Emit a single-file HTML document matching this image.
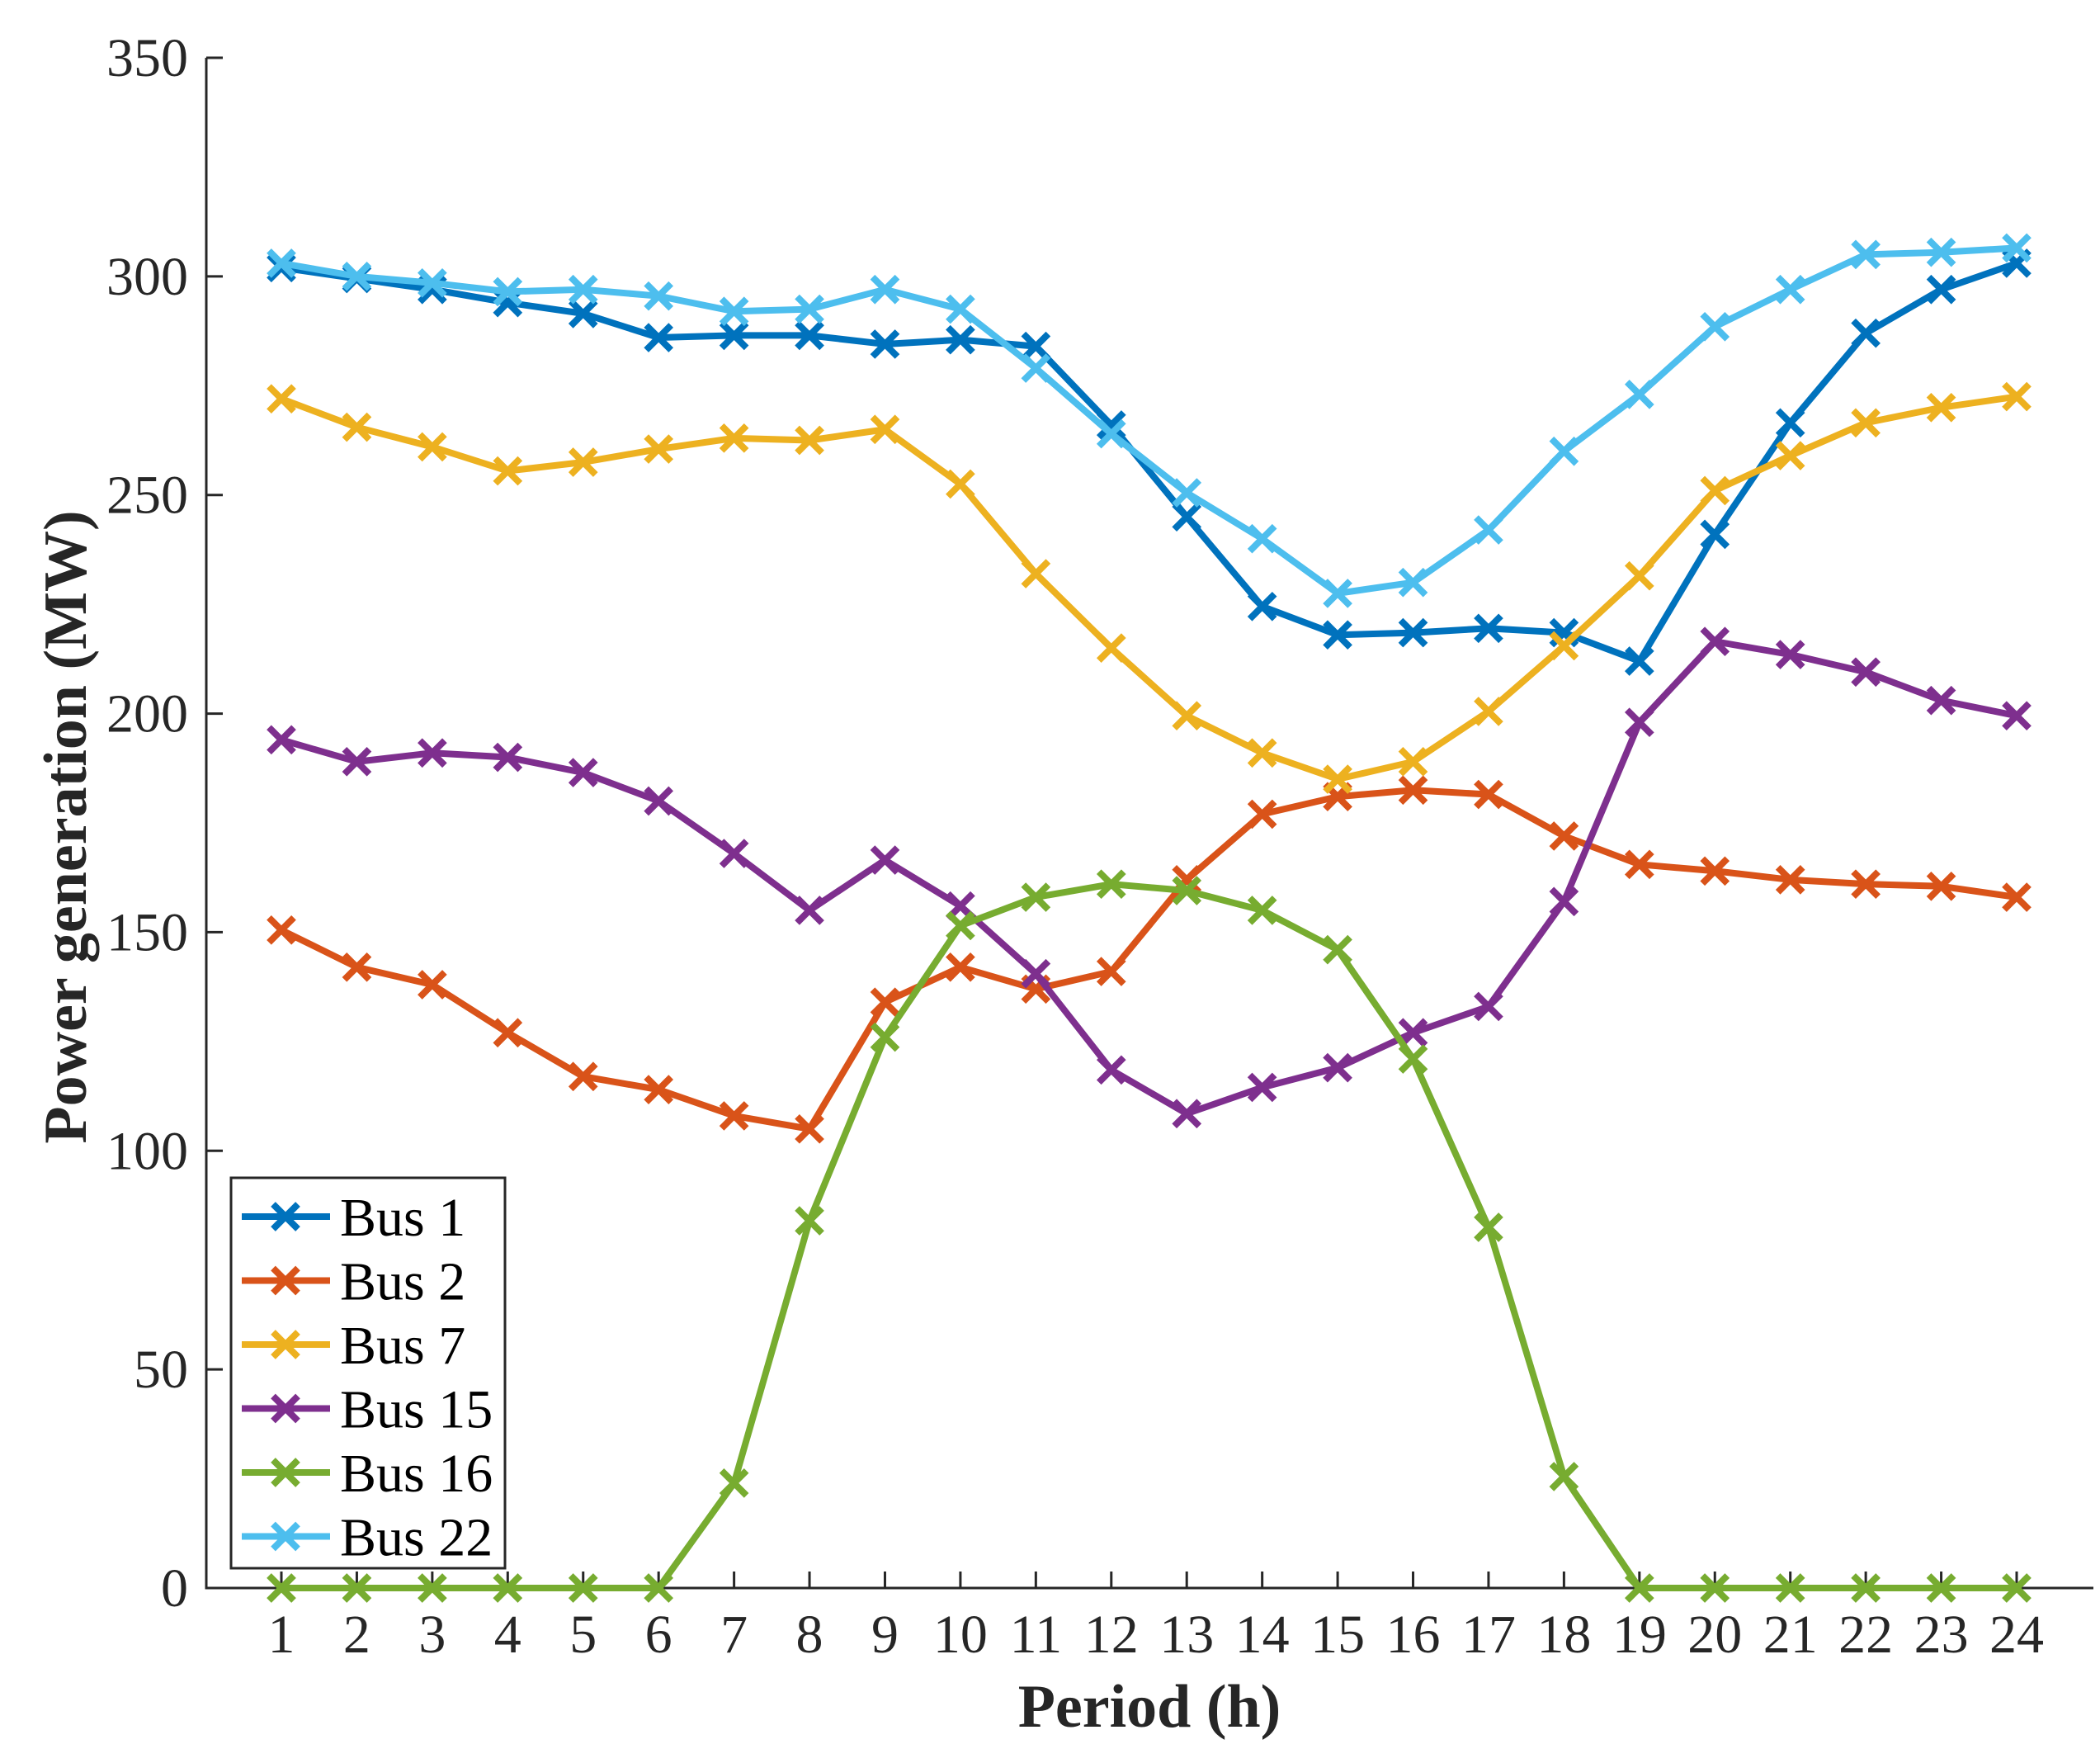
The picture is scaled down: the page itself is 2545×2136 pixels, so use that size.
<!DOCTYPE html>
<html><head><meta charset="utf-8"><style>
html,body{margin:0;padding:0;background:#fff;}
svg{display:block;font-family:"Liberation Serif","DejaVu Serif",serif;}
</style></head><body>
<svg id="chart" width="2545" height="2136" viewBox="0 0 2545 2136">
<g id="plot"></g>
</svg>
<script>
const periods=[1,2,3,4,5,6,7,8,9,10,11,12,13,14,15,16,17,18,19,20,21,22,23,24];
const yTicks=[0,50,100,150,200,250,300,350];
const bus1=[302,299.5,297,294,291.5,286,286.5,286.5,284.5,285.5,284,266,245,224.5,218,218.5,219.5,218.5,212,241,266.5,287,297,303];
const bus2=[150.5,142,138,127,117,114,108,105,134,142,137,141,162,177,181,182.5,181.5,172,165.5,164,162,161,160.5,158];
const bus7=[272,265.5,261,255.5,257.5,260.5,263,262.5,265,252.5,232,215,199.5,191,185,189,200.5,215.5,231.5,251,259,266.5,270,272.5];
const bus15=[194,189,191,190,186.5,180,168,155,166.5,156,140.5,118.5,108.5,114.5,119,127,133,157,198,216.5,213.5,209.5,203,199.5];
const bus16=[0,0,0,0,0,0,24,84,126,151.5,158,161,159.5,155,146,121,82.5,25.5,0,0,0,0,0,0];
const bus22=[303,300,298.5,296.5,297,295.5,292,292.5,297,292.5,279,264,250.5,240,227.5,230,242,260,273,288.5,297,305,305.5,306.5];
const seriesNames=["Bus 1","Bus 2","Bus 7","Bus 15","Bus 16","Bus 22"];

const series=[bus1,bus2,bus7,bus15,bus16,bus22];
const colors=["#0072BD","#D95319","#EDB120","#7E2F8E","#77AC30","#4DBEEE"];
const NS="http://www.w3.org/2000/svg";
const L=250,R=2537,T=70,B=1924;
const X=p=>341+(p-1)*(2444-341)/23;
const Y=v=>B-(v/350)*(B-T);
const g=document.getElementById('plot');
function el(t,a,p){const e=document.createElementNS(NS,t);for(const k in a)e.setAttribute(k,a[k]);(p||g).appendChild(e);return e;}
let ax=el('path',{d:`M${L},${T}V${B}H${R}`,stroke:'#262626','stroke-width':3,fill:'none'});


yTicks.forEach(v=>{
  const t=el('line',{x1:L,x2:L+20,y1:Y(v),y2:Y(v),stroke:'#262626','stroke-width':3});
  
  
  const tx=el('text',{x:L-22,y:Y(v)+22,'text-anchor':'end','font-size':66,fill:'#262626'});
  tx.textContent=v;
  
  
});
periods.forEach(p=>{
  const t=el('line',{x1:X(p),x2:X(p),y1:B,y2:B-20,stroke:'#262626','stroke-width':3});
  
  
  const tx=el('text',{x:X(p),y:B+78,'text-anchor':'middle','font-size':66,fill:'#262626'});
  tx.textContent=p;
  
  
});
function marker(x,y,c,parent){
  const s=15;
  return el('path',{d:`M${x-s},${y-s}L${x+s},${y+s}M${x-s},${y+s}L${x+s},${y-s}`,stroke:c,'stroke-width':8,fill:'none'},parent);
}
series.forEach((d,i)=>{
  const sg=el('g',{});
  
  
  const pts=d.map((v,j)=>X(periods[j])+','+Y(v)).join(' ');
  const pl=el('polyline',{points:pts,fill:'none',stroke:colors[i],'stroke-width':8,'stroke-linejoin':'round'},sg);
  
  
  d.forEach((v,j)=>{const m=marker(X(periods[j]),Y(v),colors[i],sg);
    
    });
});
const lg=el('g',{});


el('rect',{x:280,y:1427,width:332,height:473,fill:'#fff',stroke:'#262626','stroke-width':3},lg);
seriesNames.forEach((n,i)=>{
  const y=1474+i*77.5;
  const e=el('g',{},lg);
  
  
  el('line',{x1:293,x2:400,y1:y,y2:y,stroke:colors[i],'stroke-width':8},e);
  marker(346,y,colors[i],e);
  const t=el('text',{x:412,y:y+23,'font-size':66,fill:'#000'},e);
  t.textContent=n;
});
const xt=el('text',{x:1393,y:2092,'text-anchor':'middle','font-size':74,'font-weight':'bold',fill:'#262626'});
xt.textContent='Period (h)';


const yt=el('text',{x:0,y:0,'text-anchor':'middle','font-size':74,'font-weight':'bold',fill:'#262626',transform:`translate(104,${(T+B)/2+5}) rotate(-90)`});
yt.textContent='Power generation (MW)';


</script>
</body></html>
